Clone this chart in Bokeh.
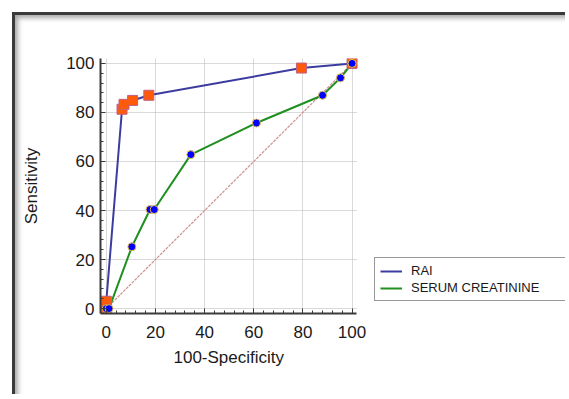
from bokeh.plotting import figure
from bokeh.models import Range1d, FixedTicker, Legend, LegendItem, BoxAnnotation, Title
from bokeh.embed import file_html
from bokeh.resources import INLINE

# ---- data ----
rai_fpr = [0, 0, 0, 6.4, 7.2, 10.7, 17.3, 79.4, 100]
rai_sens = [0, 1.5, 3.0, 81.3, 83.3, 84.9, 87.0, 98.1, 100]

crea_fpr = [0, 1.1, 10.4, 17.8, 19.5, 34.4, 61.1, 88.0, 95.3, 100]
crea_sens = [0, 0, 25.2, 40.4, 40.4, 62.8, 75.7, 87.0, 94.1, 100]

diag = [0, 100]
major_ticks = [0, 20, 40, 60, 80, 100]
minor_ticks = list(range(0, 101, 4))
series_names = ["RAI", "SERUM CREATININE"]
x_title = "100-Specificity"
y_title = "Sensitivity"

FONT = "Liberation Sans"
X_LO, X_HI = -2.36, 102.0       # visible extent of the plotting area

p = figure(width=553, height=382, output_backend="svg", toolbar_location=None,
           x_range=Range1d(X_LO, 186.86), y_range=Range1d(-2.0, 102.0),
           min_border_left=85, min_border_right=3, min_border_top=43, min_border_bottom=84,
           background_fill_color="white", border_fill_color="white", border_fill_alpha=0.0)
p.outline_line_color = None
p.styles = {"margin-left": "12px", "margin-top": "12px", "margin-bottom": "-8px",
            "border-left": "3px solid #3a3a3a", "border-top": "3px solid #3a3a3a",
            "box-shadow": "inset 5px 5px 5px -2px #a8a8a8"}

for ax in (p.xaxis[0], p.yaxis[0]):
    ax.ticker = FixedTicker(ticks=major_ticks, minor_ticks=minor_ticks)
    ax.axis_line_color = "#3a3a3a"
    ax.axis_line_width = 2
    ax.major_tick_line_color = "#3a3a3a"
    ax.minor_tick_line_color = "#3a3a3a"
    ax.major_tick_in = 5
    ax.major_tick_out = 0
    ax.minor_tick_in = 3
    ax.minor_tick_out = 0
    ax.major_label_text_font = FONT
    ax.major_label_text_font_size = "17px"
    ax.major_label_text_color = "#1a1a1a"
    ax.axis_label_text_font = FONT
    ax.axis_label_text_font_size = "17px"
    ax.axis_label_text_font_style = "normal"
    ax.axis_label_text_color = "#1a1a1a"

p.xaxis.bounds = (X_LO, X_HI)
p.yaxis.axis_label = y_title
p.xaxis.major_label_standoff = 12
p.yaxis.major_label_standoff = 6
p.yaxis.axis_label_standoff = 22

# x axis title, centred under the visible plotting region
p.add_layout(Title(text=x_title, align="left", offset=73, standoff=11,
                   text_font=FONT, text_font_size="17px", text_font_style="normal",
                   text_color="#1a1a1a"), "below")

for g in (p.xgrid[0], p.ygrid[0]):
    g.ticker = FixedTicker(ticks=major_ticks)
    g.grid_line_color = "#b4b4b4"
    g.grid_line_dash = "1 1"
    g.grid_line_width = 1

# blank out the area right of the plotting region (where the legend sits)
p.add_layout(BoxAnnotation(left=X_HI, fill_color="white", fill_alpha=1.0,
                           line_alpha=0.0, level="underlay"))

# reference diagonal
p.line(diag, diag, line_color="#d09090", line_width=1.2, line_dash="3 1")

# curves
l_crea = p.line(crea_fpr, crea_sens, line_color="#1f8f1f", line_width=2)
l_rai = p.line(rai_fpr, rai_sens, line_color="#3c3ca0", line_width=2)

p.scatter(rai_fpr, rai_sens, marker="square", size=10, fill_color="#ff5a0a",
          line_color="#c06080", line_width=1)
p.scatter(crea_fpr, crea_sens, marker="circle", size=8, fill_color="#0000ff",
          line_color="#e8c040", line_width=1)

legend = Legend(items=[LegendItem(label=series_names[0], renderers=[l_rai]),
                       LegendItem(label=series_names[1], renderers=[l_crea])],
                location=(274, 12), orientation="vertical",
                label_text_font=FONT, label_text_font_size="13px", label_text_color="#1a1a1a",
                glyph_width=22, glyph_height=14, label_height=14, label_width=156,
                label_standoff=9, padding=5, spacing=2, margin=0,
                border_line_color="#333333", border_line_width=1.5,
                background_fill_color="white", background_fill_alpha=1.0)
p.add_layout(legend)

open("out.html", "w").write(file_html(p, INLINE))
